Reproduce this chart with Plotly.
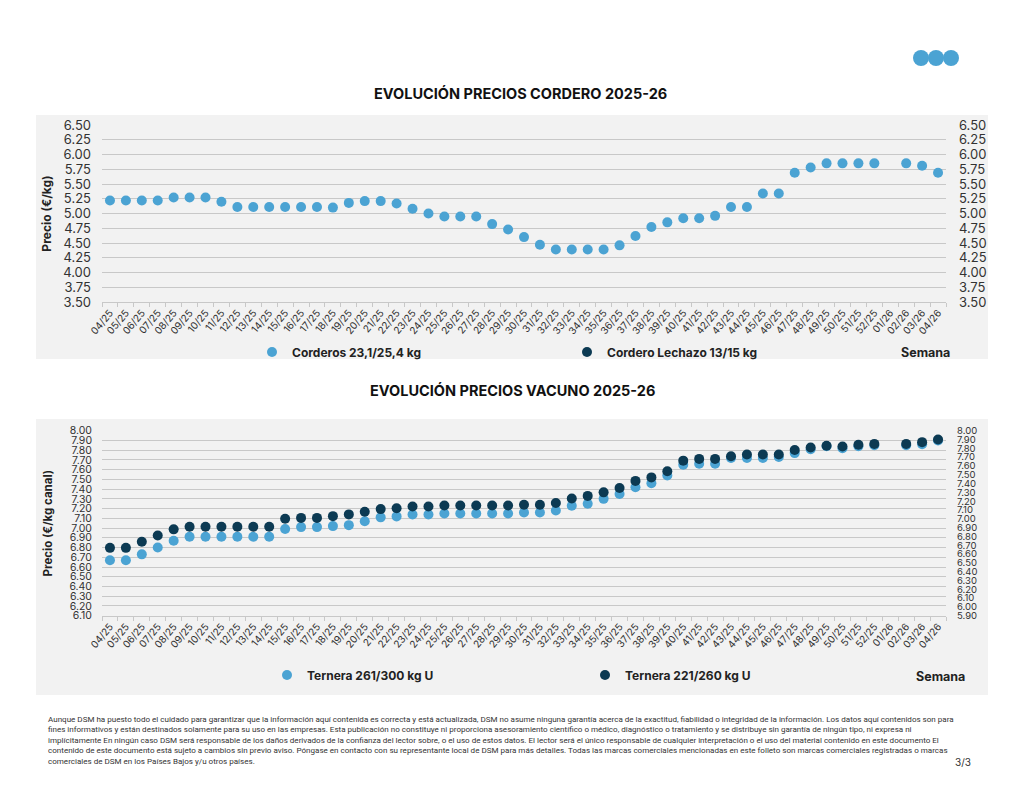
import plotly.graph_objects as go

# ---------------- DATA ----------------
weeks = ["04/25", "05/25", "06/25", "07/25", "08/25", "09/25", "10/25", "11/25", "12/25", "13/25",
         "14/25", "15/25", "16/25", "17/25", "18/25", "19/25", "20/25", "21/25", "22/25", "23/25",
         "24/25", "25/25", "26/25", "27/25", "28/25", "29/25", "30/25", "31/25", "32/25", "33/25",
         "34/25", "35/25", "36/25", "37/25", "38/25", "39/25", "40/25", "41/25", "42/25", "43/25",
         "44/25", "45/25", "46/25", "47/25", "48/25", "49/25", "50/25", "51/25", "52/25", "01/26",
         "02/26", "03/26", "04/26"]

corderos = [5.22, 5.22, 5.22, 5.22, 5.27, 5.27, 5.27, 5.20, 5.11, 5.11,
            5.11, 5.11, 5.11, 5.11, 5.10, 5.18, 5.21, 5.21, 5.17, 5.08,
            5.00, 4.95, 4.95, 4.95, 4.82, 4.73, 4.60, 4.47, 4.39, 4.39,
            4.39, 4.39, 4.46, 4.62, 4.77, 4.85, 4.92, 4.92, 4.96, 5.11,
            5.11, 5.34, 5.34, 5.69, 5.78, 5.85, 5.85, 5.85, 5.85, None,
            5.85, 5.81, 5.69]

lechazo = [None] * len(weeks)

ternera_261_300 = [6.67, 6.67, 6.73, 6.80, 6.87, 6.91, 6.91, 6.91, 6.91, 6.91,
                   6.91, 6.99, 7.01, 7.01, 7.02, 7.03, 7.07, 7.11, 7.12, 7.14,
                   7.14, 7.15, 7.15, 7.15, 7.15, 7.15, 7.16, 7.16, 7.18, 7.23,
                   7.25, 7.30, 7.35, 7.42, 7.46, 7.54, 7.65, 7.66, 7.66, 7.72,
                   7.72, 7.72, 7.73, 7.77, 7.81, 7.84, 7.82, 7.84, 7.85, None,
                   7.85, 7.86, 7.90]

ternera_221_260 = [6.67, 6.67, 6.74, 6.81, 6.88, 6.91, 6.91, 6.91, 6.91, 6.91,
                   6.91, 7.00, 7.01, 7.01, 7.03, 7.05, 7.08, 7.11, 7.12, 7.14,
                   7.14, 7.15, 7.15, 7.15, 7.15, 7.15, 7.16, 7.16, 7.18, 7.23,
                   7.26, 7.30, 7.35, 7.43, 7.47, 7.54, 7.66, 7.68, 7.68, 7.71,
                   7.73, 7.73, 7.73, 7.78, 7.81, 7.83, 7.82, 7.84, 7.85, None,
                   7.85, 7.87, 7.90]

title_top = "EVOLUCIÓN PRECIOS CORDERO 2025-26"
title_bottom = "EVOLUCIÓN PRECIOS VACUNO 2025-26"
footer_lines = [
    "Aunque DSM ha puesto todo el cuidado para garantizar que la información aquí contenida es correcta y está actualizada, DSM no asume ninguna garantía acerca de la exactitud, fiabilidad o integridad de la información. Los datos aquí contenidos son para",
    "fines informativos y están destinados solamente para su uso en las empresas. Esta publicación no constituye ni proporciona asesoramiento científico o médico, diagnóstico o tratamiento y se distribuye sin garantía de ningún tipo, ni expresa ni",
    "implícitamente En ningún caso DSM será responsable de los daños derivados de la confianza del lector sobre, o el uso de estos datos. El lector será el único responsable de cualquier interpretación o el uso del material contenido en este documento El",
    "contenido de este documento está sujeto a cambios sin previo aviso. Póngase en contacto con su representante local de DSM para más detalles. Todas las marcas comerciales mencionadas en este folleto son marcas comerciales registradas o marcas",
    "comerciales de DSM en los Países Bajos y/u otros países.",
]

# ---------------- STYLE ----------------
W, H = 1024, 791
LIGHT = "#4ba3d3"
DARK = "#0c3a53"
PANEL = "#f2f2f2"
GRID = "#c8c8c8"
TXT = "#333333"
FONT = "Inter, Lato, sans-serif"

def px(x):
    return x / W

def py(y):
    return 1 - y / H

x_dom = [px(102), px(946)]
top_dom = [py(302), py(125)]
bot_dom = [py(615.7), py(430.7)]

fig = go.Figure()

fig.add_trace(go.Scatter(x=weeks, y=corderos, mode="markers", name="<b>Corderos 23,1/25,4 kg</b>",
                         marker=dict(color=LIGHT, size=10), xaxis="x", yaxis="y", legend="legend"))
fig.add_trace(go.Scatter(x=weeks, y=lechazo, mode="markers", name="<b>Cordero Lechazo 13/15 kg</b>",
                         marker=dict(color=DARK, size=10), xaxis="x", yaxis="y2", legend="legend"))
fig.add_trace(go.Scatter(x=weeks, y=ternera_261_300, mode="markers", name="<b>Ternera 261/300 kg U</b>",
                         marker=dict(color=LIGHT, size=10), xaxis="x2", yaxis="y3", legend="legend2"))
fig.add_trace(go.Scatter(x=weeks, y=ternera_221_260, mode="markers", name="<b>Ternera 221/260 kg U</b>",
                         marker=dict(color=DARK, size=10), xaxis="x2", yaxis="y4", legend="legend2"))

xcommon = dict(type="category", categoryorder="array", categoryarray=weeks, domain=x_dom,
               showgrid=False, showline=True, linecolor=GRID, linewidth=1.3,
               ticks="outside", tickson="boundaries", ticklen=4, tickcolor=GRID,
               tickangle=-50, tickfont=dict(size=10, color=TXT, family=FONT),
               range=[-0.5, len(weeks) - 0.5], fixedrange=True, automargin=False)

fig.update_layout(
    width=W, height=H, autosize=False,
    margin=dict(l=0, r=0, t=0, b=0, autoexpand=False),
    paper_bgcolor="white", plot_bgcolor="rgba(0,0,0,0)",
    font=dict(family=FONT, color=TXT),
    xaxis=dict(**xcommon, anchor="y"),
    yaxis=dict(domain=top_dom, anchor="x", range=[3.5, 6.5], tick0=3.5, dtick=0.25,
               tickformat=".2f", showgrid=True, gridcolor=GRID, gridwidth=1.3,
               zeroline=False, ticks="", ticklabelstandoff=10, automargin=False,
               tickfont=dict(size=13, color=TXT),
               title=dict(text="<b>Precio (€/kg)</b>", font=dict(size=12, color="#222"), standoff=9)),
    yaxis2=dict(overlaying="y", side="right", anchor="x", range=[3.5, 6.5], tick0=3.5, dtick=0.25,
                tickformat=".2f", showgrid=False, zeroline=False, ticks="", ticklabelstandoff=12,
                automargin=False, tickfont=dict(size=13, color=TXT)),
    xaxis2=dict(**xcommon, anchor="y3"),
    yaxis3=dict(domain=bot_dom, anchor="x2", range=[6.1, 8.0], tick0=6.1, dtick=0.1,
                tickformat=".2f", showgrid=True, gridcolor=GRID, gridwidth=1.3,
                zeroline=False, ticks="", ticklabelstandoff=9, automargin=False,
                tickfont=dict(size=10.5, color=TXT),
                title=dict(text="<b>Precio (€/kg canal)</b>", font=dict(size=11.5, color="#222"), standoff=14)),
    yaxis4=dict(overlaying="y3", side="right", anchor="x2", range=[5.9, 8.0], tick0=5.9, dtick=0.1,
                tickformat=".2f", showgrid=False, zeroline=False, ticks="", ticklabelstandoff=10,
                automargin=False, tickfont=dict(size=9.5, color=TXT)),
    legend=dict(orientation="h", x=px(252), y=py(352), xanchor="left", yanchor="middle",
                entrywidth=270, entrywidthmode="pixels", bgcolor="rgba(0,0,0,0)",
                font=dict(size=12, color="#222", family=FONT), itemsizing="trace"),
    legend2=dict(orientation="h", x=px(267), y=py(675), xanchor="left", yanchor="middle",
                 entrywidth=273, entrywidthmode="pixels", bgcolor="rgba(0,0,0,0)",
                 font=dict(size=12, color="#222", family=FONT), itemsizing="trace"),
    showlegend=True,
)

shapes = [
    dict(type="rect", xref="paper", yref="paper", x0=px(36), x1=px(988), y0=py(359), y1=py(115),
         fillcolor=PANEL, line=dict(width=0), layer="below"),
    dict(type="rect", xref="paper", yref="paper", x0=px(36), x1=px(988), y0=py(695), y1=py(419),
         fillcolor=PANEL, line=dict(width=0), layer="below"),
]
for cx in [921, 936, 951]:
    shapes.append(dict(type="circle", xref="paper", yref="paper", x0=px(cx - 8), x1=px(cx + 8),
                       y0=py(66), y1=py(50), fillcolor=LIGHT, line=dict(width=0)))
fig.update_layout(shapes=shapes)

annotations = [
    dict(text="<b>" + title_top + "</b>", x=px(520), y=py(93), xref="paper", yref="paper",
         showarrow=False, font=dict(size=14.5, color="#111"), xanchor="center", yanchor="middle"),
    dict(text="<b>" + title_bottom + "</b>", x=px(512), y=py(390), xref="paper", yref="paper",
         showarrow=False, font=dict(size=14.5, color="#111"), xanchor="center", yanchor="middle"),
    dict(text="<b>Semana</b>", x=px(925), y=py(352), xref="paper", yref="paper",
         showarrow=False, font=dict(size=12.5, color="#222"), xanchor="center", yanchor="middle"),
    dict(text="<b>Semana</b>", x=px(940), y=py(676), xref="paper", yref="paper",
         showarrow=False, font=dict(size=12.5, color="#222"), xanchor="center", yanchor="middle"),
    dict(text="<br>".join(footer_lines), x=px(46), y=py(713), xref="paper", yref="paper",
         showarrow=False, align="left", xanchor="left", yanchor="top",
         font=dict(size=8.05, color="#333", family="Roboto, sans-serif")),
    dict(text="3/3", x=px(973), y=py(762), xref="paper", yref="paper", showarrow=False,
         xanchor="right", yanchor="middle", font=dict(size=10, color="#333")),
]
fig.update_layout(annotations=annotations)

fig.write_html("out.html", config={"displayModeBar": False},
               post_script="document.body.style.margin='0';document.body.style.padding='0';"
                           "document.documentElement.style.overflow='hidden';")
